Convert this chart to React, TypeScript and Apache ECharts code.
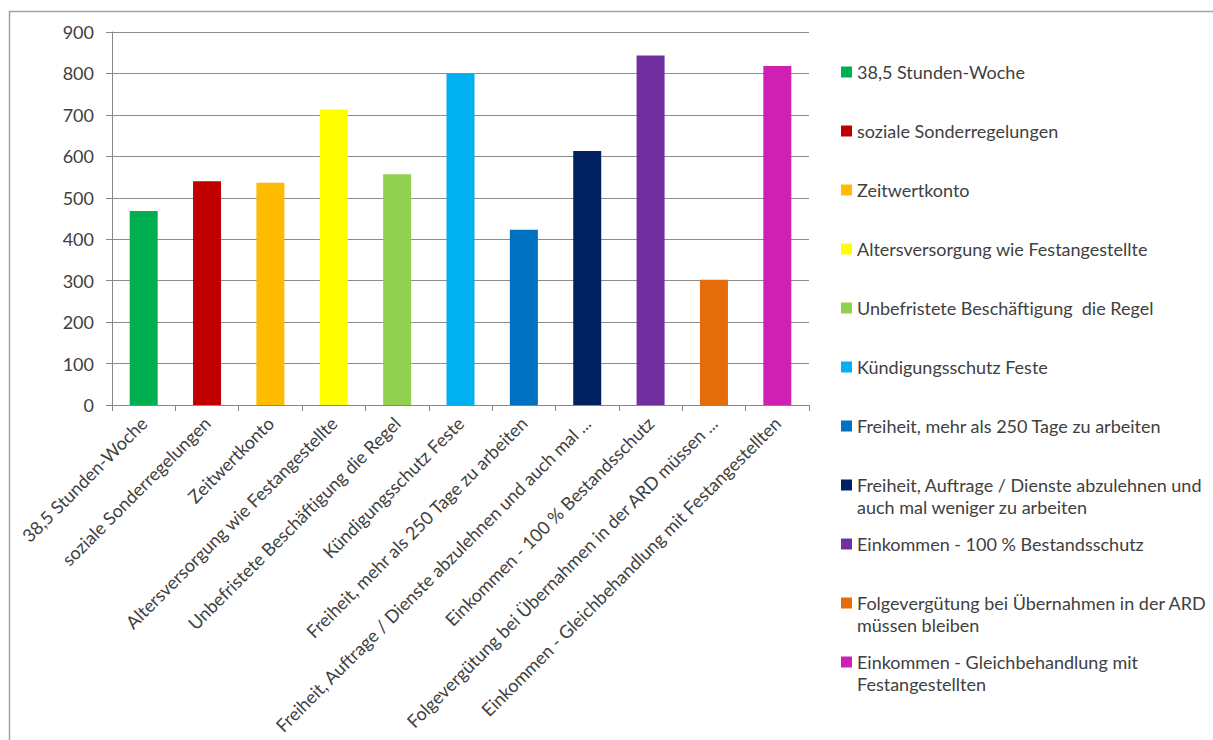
import React, { useEffect, useRef } from "react";
import * as echarts from "echarts";

// Full category names (used as series / legend keys)
const categories: string[] = [
  "38,5 Stunden-Woche",
  "soziale Sonderregelungen",
  "Zeitwertkonto",
  "Altersversorgung wie Festangestellte",
  "Unbefristete Beschäftigung  die Regel",
  "Kündigungsschutz Feste",
  "Freiheit, mehr als 250 Tage zu arbeiten",
  "Freiheit, Auftrage / Dienste abzulehnen und auch mal weniger zu arbeiten",
  "Einkommen - 100 % Bestandsschutz",
  "Folgevergütung bei Übernahmen in der ARD müssen bleiben",
  "Einkommen - Gleichbehandlung mit Festangestellten",
];

// Category axis labels (long names shortened)
const axisLabels: string[] = [
  "38,5 Stunden-Woche",
  "soziale Sonderregelungen",
  "Zeitwertkonto",
  "Altersversorgung wie Festangestellte",
  "Unbefristete Beschäftigung die Regel",
  "Kündigungsschutz Feste",
  "Freiheit, mehr als 250 Tage zu arbeiten",
  "Freiheit, Auftrage / Dienste abzulehnen und auch mal ...",
  "Einkommen - 100 % Bestandsschutz",
  "Folgevergütung bei Übernahmen in der ARD müssen ...",
  "Einkommen - Gleichbehandlung mit Festangestellten",
];

// Legend texts, wrapped where the legend breaks them
const legendLabels: string[] = [
  "38,5 Stunden-Woche",
  "soziale Sonderregelungen",
  "Zeitwertkonto",
  "Altersversorgung wie Festangestellte",
  "Unbefristete Beschäftigung  die Regel",
  "Kündigungsschutz Feste",
  "Freiheit, mehr als 250 Tage zu arbeiten",
  "Freiheit, Auftrage / Dienste abzulehnen und\nauch mal weniger zu arbeiten",
  "Einkommen - 100 % Bestandsschutz",
  "Folgevergütung bei Übernahmen in der ARD\nmüssen bleiben",
  "Einkommen - Gleichbehandlung mit\nFestangestellten",
];

const values: number[] = [468, 540, 536, 713, 557, 799, 423, 613, 843, 302, 818];

const colors: string[] = [
  "#00b050",
  "#c00000",
  "#ffbb00",
  "#ffff00",
  "#92d050",
  "#00b0f0",
  "#0070c0",
  "#002060",
  "#7030a0",
  "#e46c0a",
  "#d020b4",
];

const yMin = 0;
const yMax = 900;
const yStep = 100;

const FONT = "Lato";
const FONT_SIZE = 18;
const TEXT_COLOR = "#404040";
const LINE_H = 22;

export default function App() {
  const ref = useRef<HTMLDivElement>(null);

  useEffect(() => {
    if (!ref.current) return;
    const chart = echarts.init(ref.current, null, { renderer: "svg" });

    const series = categories.map((name, i) => ({
      name,
      type: "bar" as const,
      stack: "all",
      barWidth: 28,
      itemStyle: { color: colors[i] },
      data: values.map((v, j) => (j === i ? v : "-")),
    }));

    // One legend block per entry, so that wrapped entries keep the marker
    // beside their first line and every entry sits on an even pitch.
    const legends = categories.map((name, i) => {
      const twoLine = legendLabels[i].includes("\n");
      const center = 72 + 59 * i;
      return {
        data: [name],
        orient: "vertical" as const,
        left: 841,
        top: twoLine ? center - LINE_H * 1.5 : center - LINE_H / 2,
        padding: 0,
        icon: "rect",
        itemWidth: 11,
        itemHeight: 11,
        selectedMode: false,
        // a blank leading line keeps the first text line level with the marker
        formatter: () => (twoLine ? "\n" + legendLabels[i] : legendLabels[i]),
        textStyle: {
          fontFamily: FONT,
          fontSize: FONT_SIZE,
          color: TEXT_COLOR,
          lineHeight: LINE_H,
        },
      };
    });

    chart.setOption({
      animation: false,
      backgroundColor: "#ffffff",
      textStyle: { fontFamily: FONT },
      grid: { left: 112, right: 404, top: 32, bottom: 335, containLabel: false },
      xAxis: {
        type: "category",
        data: categories,
        boundaryGap: true,
        axisLine: { show: true, lineStyle: { color: "#868686", width: 1 } },
        axisTick: { show: true, length: 6, lineStyle: { color: "#868686" } },
        axisLabel: {
          interval: 0,
          rotate: 45,
          margin: 15,
          fontFamily: FONT,
          fontSize: FONT_SIZE,
          color: TEXT_COLOR,
          formatter: (_: string, idx: number) => axisLabels[idx],
        },
        splitLine: { show: false },
      },
      yAxis: {
        type: "value",
        min: yMin,
        max: yMax,
        interval: yStep,
        axisLine: { show: true, lineStyle: { color: "#868686", width: 1 } },
        axisTick: { show: true, length: 6, lineStyle: { color: "#868686" } },
        axisLabel: {
          margin: 18,
          fontFamily: FONT,
          fontSize: FONT_SIZE,
          color: TEXT_COLOR,
        },
        splitLine: { show: true, lineStyle: { color: "#8c8c8c", width: 1 } },
      },
      legend: legends,
      graphic: [
        {
          type: "rect",
          silent: true,
          shape: { x: 9.5, y: 11.5, width: 1400, height: 900 },
          style: { fill: "none", stroke: "#a3a3a3", lineWidth: 1.5 },
          z: 100,
        },
      ],
      series,
    });

    return () => chart.dispose();
  }, []);

  return (
    <div
      ref={ref}
      style={{ position: "absolute", left: 0, top: 0, width: 1213, height: 740 }}
    />
  );
}
